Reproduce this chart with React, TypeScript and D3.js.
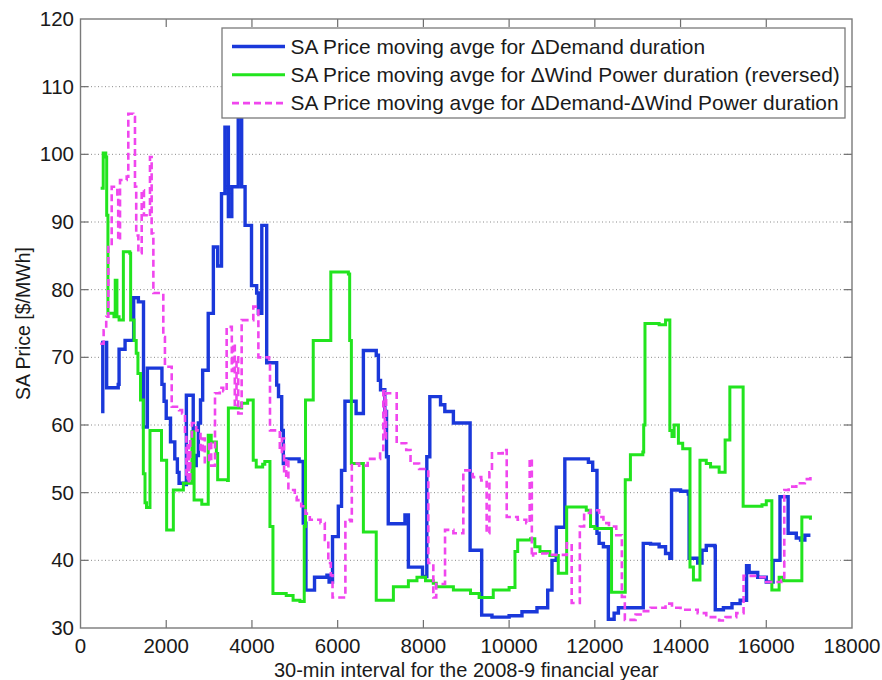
import * as d3 from "d3";

// step points: x = 30-min interval index, y = SA price [$/MWh]
const demandX = [480, 520, 610, 880, 900, 1040, 1240, 1350, 1470, 1560, 1900, 1950, 2000, 2100, 2200, 2260, 2300, 2440, 2470, 2630, 2700, 2750, 2800, 2850, 2980, 3100, 3200, 3290, 3370, 3450, 3530, 3680, 3760, 3840, 3990, 4110, 4150, 4230, 4344, 4577, 4620, 4694, 4732, 4771, 5100, 5197, 5260, 5460, 5750, 5800, 5880, 6015, 6090, 6170, 6430, 6600, 6900, 6950, 7000, 7100, 7140, 7180, 7570, 7650, 7980, 8080, 8150, 8400, 8500, 8700, 9090, 9360, 9600, 10000, 10300, 10650, 10900, 11000, 11100, 11300, 11850, 11950, 12050, 12100, 12200, 12315, 12450, 12550, 13130, 13300, 13500, 13650, 13750, 13790, 14000, 14180, 14200, 14400, 14500, 14600, 14800, 14810, 15000, 15200, 15390, 15540, 15600, 15800, 16000, 16160, 16320, 16510, 16700, 16800, 16900, 17030];
const demandY = [62, 72.2, 65.5, 66, 71.2, 72.5, 78.8, 78.2, 59.7, 68.4, 66, 63.5, 61, 57.5, 55, 53, 51.4, 51.2, 64.4, 54, 55.5, 60.3, 63.7, 68.1, 76.5, 86.3, 83.5, 94.2, 104, 90.8, 95.2, 108, 95.2, 89.5, 80.6, 79.5, 76.5, 89.5, 69.2, 65.9, 64.2, 59.2, 54.3, 55, 54.6, 45.5, 35.6, 37.5, 37.8, 36.8, 43.5, 48, 53.3, 63.5, 61.7, 71, 70.3, 66.6, 65.2, 62, 55.3, 45.4, 46.7, 39, 37.6, 55.3, 64.2, 63, 62, 60.3, 41.5, 31.9, 31.6, 31.8, 32.4, 33, 35.6, 40, 44.9, 55, 54.5, 53.3, 44, 42.5, 42, 31.3, 32.2, 33, 42.5, 42.4, 42, 41, 40.3, 50.4, 50.2, 49.8, 40.3, 39.6, 41.5, 42.2, 42, 32.7, 33, 33.6, 34.1, 39.2, 38.2, 37.5, 36.8, 40, 49.4, 44, 43.3, 43, 43.7, 43.7];

const windX = [470, 530, 590, 611, 640, 780, 810, 850, 900, 1000, 1150, 1170, 1250, 1300, 1340, 1400, 1466, 1505, 1540, 1621, 1890, 2010, 2166, 2400, 2600, 2650, 2830, 2980, 3050, 3170, 3200, 3430, 3450, 3760, 3900, 4030, 4100, 4250, 4300, 4420, 4490, 4800, 4960, 5120, 5220, 5250, 5430, 5840, 6250, 6280, 6320, 6600, 6900, 7300, 7650, 7850, 8050, 8230, 8300, 8700, 9100, 9300, 9630, 10000, 10137, 10200, 10500, 10600, 10720, 10950, 11147, 11343, 11800, 11900, 12000, 12390, 12710, 12830, 13120, 13140, 13170, 13500, 13650, 13750, 13800, 13850, 13950, 14050, 14220, 14300, 14453, 14600, 14700, 14900, 15040, 15150, 15460, 15900, 16000, 16130, 16300, 16400, 16830, 17030];
const windY = [95, 100.2, 99.6, 91, 76.5, 76, 81.4, 76, 75.5, 85.6, 85.4, 75.5, 72.5, 70.6, 67.6, 63.7, 52.8, 48.5, 47.8, 59.2, 54.8, 44.5, 50.4, 51.4, 59, 48.9, 48.3, 58.5, 57.5, 55.8, 51.9, 51.8, 62.5, 63.2, 63.7, 54.8, 53.8, 54.2, 54.6, 45, 35.1, 34.8, 34.1, 33.9, 45, 63.7, 72.5, 82.6, 82.3, 72.5, 54.3, 44.2, 34.1, 36.1, 37, 37.5, 37, 36.6, 36.1, 35.6, 35.1, 34.5, 35.6, 36, 41.3, 43, 43.2, 42, 41.3, 40.7, 38.1, 47.9, 47.4, 45, 44.7, 35.3, 51.9, 55.6, 56, 60, 75, 74.8, 75.5, 59.2, 58.3, 60, 57.3, 56.5, 39, 37.1, 54.8, 54.3, 53.8, 53, 57.8, 65.6, 48, 48.2, 48.8, 35.6, 37.5, 37, 46.4, 46];

const netX = [460, 540, 600, 650, 728, 860, 880, 922, 1078, 1115, 1230, 1271, 1300, 1350, 1428, 1480, 1582, 1621, 1660, 1700, 1932, 1970, 2128, 2300, 2370, 2438, 2470, 2500, 2530, 2560, 2600, 2700, 2800, 2850, 2900, 3000, 3050, 3138, 3250, 3330, 3410, 3530, 3560, 3600, 3640, 3680, 3760, 4032, 4150, 4400, 4421, 4600, 4650, 4700, 4750, 4800, 4850, 5000, 5044, 5150, 5250, 5350, 5600, 5700, 5782, 5840, 5880, 6180, 6300, 6330, 6500, 6700, 6990, 7065, 7100, 7130, 7377, 7600, 7700, 7900, 8115, 8232, 8300, 8505, 8700, 8932, 9150, 9350, 9476, 9540, 9600, 9850, 9944, 10200, 10400, 10480, 10530, 10560, 10900, 11343, 11460, 11650, 11750, 11900, 12100, 12200, 12330, 12500, 12630, 12700, 12950, 13100, 13300, 13650, 13800, 14000, 14400, 14600, 14900, 15050, 15300, 15470, 15800, 16000, 16350, 16420, 16523, 16700, 16900, 17030];
const netY = [72, 74, 76, 86.3, 95.2, 93.6, 87.3, 96.2, 96.7, 106, 105.5, 95.2, 88, 85.4, 94.7, 91, 90.8, 99.6, 88.3, 79.5, 73, 68.6, 62.7, 62.2, 61.7, 58.8, 52, 57, 51.5, 58, 60.3, 59.2, 56, 58, 54.5, 57.5, 54, 64.7, 65.5, 65, 74.5, 68, 72, 63, 70, 61.7, 75.5, 77.5, 70, 69.3, 59.2, 59.2, 56, 58, 52.5, 55, 50.4, 49.4, 48.9, 48, 46.9, 46, 45.5, 43, 39.6, 37.8, 34.5, 46, 45.8, 54.3, 54, 55, 56.3, 65, 58, 64.7, 57.3, 56.3, 54.3, 53.5, 39.6, 34.5, 36.5, 44.5, 44, 53.3, 52.3, 51.8, 44, 53, 55.8, 56.3, 46.4, 46, 45.5, 55, 40.5, 41, 40.8, 42.5, 33.7, 45, 47, 47.4, 46.4, 45.5, 45, 43.7, 34.6, 31.2, 32, 32.5, 33, 33.6, 33, 32.7, 32.2, 31.6, 31.1, 31.6, 32.2, 37.7, 37.5, 36.8, 37, 50.4, 50.9, 51.4, 52, 52.3];

const xTicks = [0, 2000, 4000, 6000, 8000, 10000, 12000, 14000, 16000, 18000];
const yTicks = [30, 40, 50, 60, 70, 80, 90, 100, 110, 120];

const legendLabels = [
  "SA Price moving avge for \u0394Demand duration",
  "SA Price moving avge for \u0394Wind Power duration (reversed)",
  "SA Price moving avge for \u0394Demand-\u0394Wind Power duration",
];

const W = 882;
const H = 680;
const left = 80.5;
const right = 852;
const top = 19;
const bottom = 628;
const font = "'Liberation Sans', Arial, Helvetica, sans-serif";

const series = [
  { xs: demandX, ys: demandY, color: "#1a38da", width: 3.4, dash: undefined as string | undefined },
  { xs: windX, ys: windY, color: "#22e41e", width: 3, dash: undefined as string | undefined },
  { xs: netX, ys: netY, color: "#f046ee", width: 2.6, dash: "7,4" },
];

export default function App() {
  const x = d3.scaleLinear().domain([0, 18000]).range([left, right]);
  const y = d3.scaleLinear().domain([30, 120]).range([bottom, top]);
  const line = d3
    .line<[number, number]>()
    .x((d) => x(d[0]))
    .y((d) => y(d[1]))
    .curve(d3.curveStepAfter);

  return (
    <svg
      width={W}
      height={H}
      style={{ position: "absolute", left: 0, top: 0, background: "#fff" }}
      fontFamily={font}
    >
      <defs>
        <clipPath id="plot">
          <rect x={left} y={top} width={right - left} height={bottom - top} />
        </clipPath>
      </defs>
      <rect x={0} y={0} width={W} height={H} fill="#fff" />

      {/* dotted horizontal grid */}
      {yTicks.slice(1, -1).map((t) => (
        <line
          key={"g" + t}
          x1={left}
          x2={right}
          y1={y(t)}
          y2={y(t)}
          stroke="#8a8a8a"
          strokeWidth={1}
          strokeDasharray="1,2.5"
        />
      ))}

      {/* ticks, inside on all four sides */}
      {xTicks.slice(1, -1).map((t) => (
        <g key={"xt" + t} stroke="#6e6e6e" strokeWidth={1.2}>
          <line x1={x(t)} x2={x(t)} y1={bottom} y2={bottom - 8} />
          <line x1={x(t)} x2={x(t)} y1={top} y2={top + 8} />
        </g>
      ))}
      {yTicks.slice(1, -1).map((t) => (
        <g key={"yt" + t} stroke="#6e6e6e" strokeWidth={1.2}>
          <line x1={left} x2={left + 8} y1={y(t)} y2={y(t)} />
          <line x1={right} x2={right - 8} y1={y(t)} y2={y(t)} />
        </g>
      ))}

      <g clipPath="url(#plot)" fill="none" strokeLinejoin="miter">
        {series.map((s, i) => (
          <path
            key={i}
            d={line(s.xs.map((v, j) => [v, s.ys[j]] as [number, number])) || ""}
            stroke={s.color}
            strokeWidth={s.width}
            strokeDasharray={s.dash}
          />
        ))}
      </g>

      <rect
        x={left}
        y={top}
        width={right - left}
        height={bottom - top}
        fill="none"
        stroke="#7a7a7a"
        strokeWidth={1.4}
      />

      {/* tick labels */}
      {xTicks.map((t) => (
        <text key={"xl" + t} x={x(t)} y={653} textAnchor="middle" fontSize={20.5} fill="#1a1a1a">
          {t}
        </text>
      ))}
      {yTicks.map((t) => (
        <text key={"yl" + t} x={74} y={y(t) + 7} textAnchor="end" fontSize={20.5} fill="#1a1a1a">
          {t}
        </text>
      ))}

      <text x={(left + right) / 2} y={677} textAnchor="middle" fontSize={20} fill="#1a1a1a">
        30-min interval for the 2008-9 financial year
      </text>
      <text
        transform={`translate(30,${(top + bottom) / 2}) rotate(-90)`}
        textAnchor="middle"
        fontSize={19.5}
        fill="#1a1a1a"
      >
        SA Price [$/MWh]
      </text>

      {/* legend */}
      <g>
        <rect x={222} y={28} width={623} height={90} fill="#fff" stroke="#7a7a7a" strokeWidth={1.3} />
        {legendLabels.map((lab, i) => {
          const cy = 46.5 + i * 28.3;
          const s = series[i];
          return (
            <g key={lab}>
              <line
                x1={232}
                x2={285}
                y1={cy}
                y2={cy}
                stroke={s.color}
                strokeWidth={s.width}
                strokeDasharray={s.dash}
              />
              <text x={290.5} y={cy + 7.3} fontSize={20.9} fill="#1a1a1a">
                {lab}
              </text>
            </g>
          );
        })}
      </g>
    </svg>
  );
}
